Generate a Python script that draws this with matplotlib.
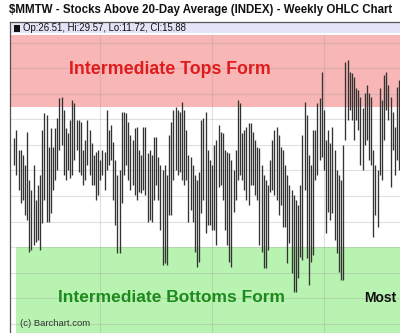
import matplotlib
matplotlib.use("Agg")
import matplotlib.pyplot as plt
from matplotlib.patches import Rectangle

# ---- data (percent of stocks above 20-day average, weekly) ----
highs = [62.7, 65.9, 58.0, 58.0, 56.1, 52.2, 65.1, 46.3, 42.4, 52.2,
         38.4, 44.3, 48.2, 65.9, 72.5, 71.8, 59.2, 66.7, 59.2, 66.7,
         70.6, 78.4, 78.8, 73.7, 66.7, 64.7, 69.8, 77.6, 76.5, 69.8,
         69.8, 69.0, 58.0, 62.0, 69.8, 65.9, 60.8, 56.1, 57.3, 58.0,
         54.1, 58.0, 57.3, 73.7, 65.9, 67.8, 61.2, 54.1, 48.2, 50.2,
         72.9, 72.9, 72.5, 69.0, 63.9, 62.0, 66.7, 67.1, 58.0, 56.1,
         67.1, 67.1, 56.9, 58.0, 56.1, 63.1, 63.1, 55.3, 52.2, 50.2,
         52.2, 48.2, 63.9, 69.0, 73.7, 74.9, 73.7, 72.9, 76.9, 73.7,
         65.9, 56.1, 55.3, 52.2, 48.2, 46.3, 49.4, 69.8, 70.6, 72.9,
         58.0, 54.1, 52.2, 60.0, 62.0, 67.8, 65.1, 64.7, 58.0, 57.3,
         56.9, 54.1, 50.2, 58.0, 77.6, 76.5, 64.7, 65.9, 67.1, 68.6,
         68.6, 65.1, 62.0, 59.2, 58.8, 52.2, 48.2, 46.3, 44.3, 54.1,
         62.0, 65.9, 67.1, 63.9, 59.2, 58.0, 52.2, 48.2, 44.3, 42.4,
         40.4, 38.4, 36.5, 44.3, 63.9, 76.9, 71.8, 56.1, 52.2, 65.9,
         65.9, 76.5, 78.4, 88.6, 73.7, 62.0, 65.9, 60.8, 67.1, 58.0,
         50.2, 48.2, 46.3, 60.0, 92.5, 93.3, 88.6, 88.2, 86.7, 82.4,
         81.6, 78.8, 74.5, 80.4, 83.5, 80.4, 78.8, 58.0, 52.2, 50.2,
         82.4, 77.6, 87.5, 88.6, 83.5, 78.8, 72.9, 67.1, 82.7, 85.5]
lows = [52.2, 48.2, 42.4, 37.3, 38.4, 32.5, 30.6, 18.0, 18.8, 20.8,
        22.0, 22.7, 18.8, 29.4, 38.4, 29.8, 29.8, 33.3, 42.4, 46.3,
        50.2, 58.0, 60.0, 48.2, 46.3, 50.2, 47.1, 48.2, 54.1, 58.0,
        49.4, 48.2, 44.3, 46.3, 52.2, 48.2, 44.3, 44.3, 38.4, 40.4,
        46.3, 48.2, 42.4, 50.2, 52.2, 54.1, 38.4, 28.6, 17.6, 17.6,
        37.3, 48.2, 52.2, 46.3, 42.4, 44.3, 40.4, 38.4, 41.6, 41.2,
        42.4, 40.4, 29.8, 30.6, 29.8, 38.4, 44.3, 38.4, 26.7, 12.9,
        13.7, 12.9, 32.5, 32.5, 46.3, 50.2, 48.2, 49.4, 46.3, 44.3,
        46.3, 29.8, 34.5, 29.8, 18.0, 12.2, 14.1, 33.3, 38.4, 25.5,
        28.6, 28.6, 26.7, 26.7, 20.8, 43.5, 44.3, 38.4, 26.7, 20.8,
        14.1, 12.2, 33.7, 38.4, 46.3, 48.2, 46.3, 42.4, 38.4, 36.5,
        44.3, 44.3, 40.4, 38.4, 20.8, 18.0, 11.8, 11.8, 18.8, 41.6,
        42.4, 40.4, 38.4, 32.5, 36.5, 27.8, 27.8, 13.7, 21.6, 9.8,
        2.4, 2.4, 7.8, 16.1, 14.9, 42.4, 15.7, 5.1, 14.1, 16.9,
        46.3, 48.2, 54.1, 55.3, 50.2, 25.5, 33.7, 30.6, 33.3, 22.7,
        17.6, 10.2, 7.1, 7.1, 62.0, 69.8, 73.7, 69.8, 62.0, 69.8,
        65.9, 52.2, 50.2, 60.0, 62.0, 54.1, 52.2, 23.9, 32.5, 27.8,
        48.2, 46.3, 62.0, 73.7, 69.8, 43.5, 58.0, 48.2, 54.1, 50.2]
weeks = list(range(len(highs)))
year_marks = [40, 92, 144]
grid_levels = list(range(-10, 101, 10))
tops_level = 75
bottoms_level = 20

title = "$MMTW - Stocks Above 20-Day Average (INDEX) - Weekly OHLC Chart"
info = "Op:26.51, Hi:29.57, Lo:11.72, Cl:15.88"

# ---- figure ----
W, H = 400, 333
fig = plt.figure(figsize=(W / 100, H / 100), dpi=100)
fig.patch.set_facecolor("white")

left_px, top_px, right_px = 10, 22, 420
ax = fig.add_axes([left_px / W, 0, (right_px - left_px) / W, (H - top_px) / H])
ymin, ymax = -13.7, 108.2
xmin, xmax = -2.0, -2.0 + (right_px - left_px) / 2.15
ax.set_xlim(xmin, xmax)
ax.set_ylim(ymin, ymax)

# bands
ax.axhspan(104.0, ymax, color="#E4E4F8", zorder=0, lw=0)
ax.axhspan(tops_level, 103.2, color="#F8B6B6", zorder=0, lw=0)
ax.add_patch(Rectangle((0.8, ymin - 5), xmax - 0.8 + 5, bottoms_level - ymin + 5,
                       facecolor="#B9F3B1", edgecolor="none", zorder=0))

# grid
for g in grid_levels:
    ax.axhline(g, color="#9A9A9A", alpha=0.3, lw=0.8, zorder=1)
for xm in year_marks:
    ax.axvline(xm, ymax=(103.2 - ymin) / (ymax - ymin), color="#9A9A9A",
               alpha=0.3, lw=0.8, zorder=1)

# bars (high-low)
ax.vlines(weeks, lows, highs, colors="#333333", lw=0.95, zorder=3)

for s in ["right", "bottom"]:
    ax.spines[s].set_visible(False)
for s in ["left", "top"]:
    ax.spines[s].set_color("#555555")
    ax.spines[s].set_linewidth(0.9)
ax.set_xticks([])
ax.set_yticks([])

fam = ["Liberation Sans", "DejaVu Sans"]
fig.text(200.5 / W, 1 - 10.5 / H, title, ha="center", va="center",
         fontsize=8.3, fontweight="bold", family=fam, color="#111111")
fig.add_artist(Rectangle((14 / W, 1 - 31.5 / H), 6 / W, 6 / H,
                         transform=fig.transFigure, facecolor="#111111",
                         edgecolor="none"))
fig.text(23 / W, 1 - 28 / H, info, ha="left", va="center",
         fontsize=6.9, family=fam, color="#111111")
fig.text(170 / W, 1 - 70 / H, "Intermediate Tops Form", ha="center", va="center",
         fontsize=12.8, fontweight="bold", family=fam, color="#E01B1B", zorder=5)
fig.text(171.5 / W, 1 - 297 / H, "Intermediate Bottoms Form", ha="center", va="center",
         fontsize=12.5, fontweight="bold", family=fam, color="#1C8A1C", zorder=5)
fig.text(20 / W, 1 - 324 / H, "(c) Barchart.com", ha="left", va="center",
         fontsize=6.8, family=fam, color="#333333")
fig.text(364 / W, 1 - 298 / H, "Most", ha="left", va="center",
         fontsize=10, fontweight="bold", family=fam, color="#111111")

fig.savefig("out.png", dpi=100)
